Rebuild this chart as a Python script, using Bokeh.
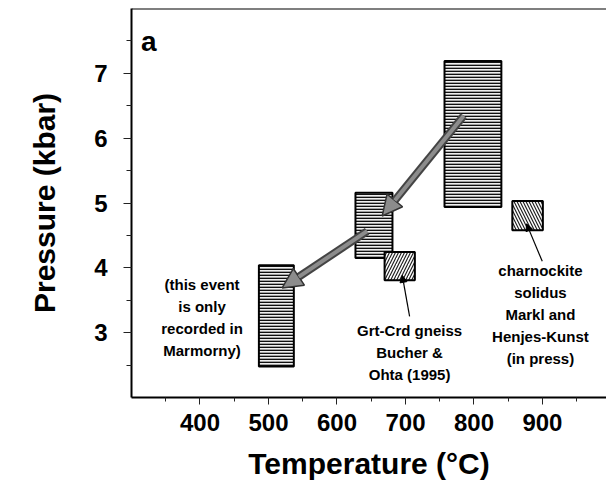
from bokeh.plotting import figure
from bokeh.models import Range1d, FixedTicker, Span, Arrow, NormalHead, ColumnDataSource
from bokeh.core.properties import value
from bokeh.embed import file_html
from bokeh.resources import INLINE

# ---- data ----
T_RANGE = (300, 993.5)
P_RANGE = (2, 8)

x_major = [400, 500, 600, 700, 800, 900]
x_minor = [350, 450, 550, 650, 750, 850, 950]
y_major = [3, 4, 5, 6, 7]
y_minor = [2.5, 3.5, 4.5, 5.5, 6.5, 7.5]

# P-T boxes with horizontal stripes
stripe_T_min = [757, 627, 486]
stripe_T_max = [840, 681, 537]
stripe_P_min = [4.94, 4.15, 2.48]
stripe_P_max = [7.19, 5.16, 4.04]

# Grt-Crd gneiss box (Bucher & Ohta 1995)
grt_T_min = [669.5]
grt_T_max = [713.7]
grt_P_min = [3.81]
grt_P_max = [4.245]

# charnockite solidus box
charn_T_min = [856]
charn_T_max = [900.6]
charn_P_min = [4.58]
charn_P_max = [5.03]

# P-T path arrows
arrow_T_start = [785, 644]
arrow_P_start = [6.345, 4.565]
arrow_T_end = [666, 520]
arrow_P_end = [4.80, 3.69]

# leader lines from notes to boxes
leader_T_start = [706, 899.7]
leader_P_start = [3.25, 4.10]
leader_T_end = [695.3, 876.8]
leader_P_end = [3.884, 4.678]

notes = [
    "(this event\nis only\nrecorded in\nMarmorny)",
    "Grt-Crd gneiss\nBucher &\nOhta (1995)",
    "charnockite\nsolidus\nMarkl and\nHenjes-Kunst\n(in press)",
]
note_T = [403, 706, 897]
note_P = [3.234, 2.697, 3.28]

panel_label = ["a"]
panel_T = [314]
panel_P = [7.49]

FONT = "Liberation Sans"

# ---- figure ----
p = figure(width=606, height=485,
           x_range=Range1d(*T_RANGE), y_range=Range1d(*P_RANGE),
           output_backend="svg", toolbar_location=None,
           min_border_left=131, min_border_right=0,
           min_border_top=8, min_border_bottom=88)
p.outline_line_color = None
p.grid.visible = False
p.background_fill_color = "white"
p.border_fill_color = "white"

xa = p.xaxis[0]
ya = p.yaxis[0]
xa.ticker = FixedTicker(ticks=x_major, minor_ticks=x_minor)
ya.ticker = FixedTicker(ticks=y_major, minor_ticks=y_minor)
xa.axis_label = "Temperature (\u00b0C)"
ya.axis_label = "Pressure (kbar)"
for ax in (xa, ya):
    ax.axis_line_width = 2
    ax.axis_line_color = "black"
    ax.major_tick_line_color = "#222222"
    ax.minor_tick_line_color = "#222222"
    ax.major_tick_in = 0
    ax.minor_tick_in = 0
    ax.major_label_text_font = FONT
    ax.major_label_text_font_style = "bold"
    ax.major_label_text_font_size = "24px"
    ax.major_label_text_color = "black"
    ax.axis_label_text_font = FONT
    ax.axis_label_text_font_style = "bold"
    ax.axis_label_text_font_size = "30px"
    ax.axis_label_text_color = "black"
xa.major_tick_out = 7
xa.minor_tick_out = 4
xa.major_label_standoff = 9
xa.axis_label_standoff = 13
ya.major_tick_out = 8
ya.minor_tick_out = 5
ya.major_label_standoff = 16
ya.axis_label_standoff = 30

# top frame line
p.add_layout(Span(location=P_RANGE[1], dimension="width", line_color="black", line_width=2))

# striped boxes
stripe_src = ColumnDataSource(dict(l=stripe_T_min, r=stripe_T_max, b=stripe_P_min, t=stripe_P_max))
p.quad(left="l", right="r", bottom="b", top="t", source=stripe_src,
       fill_color="#f0f0f0", hatch_pattern="-", hatch_color="#111111",
       hatch_weight=1.7, hatch_scale=3, line_color="black", line_width=2)

# hatched boxes
p.quad(left=grt_T_min, right=grt_T_max, bottom=grt_P_min, top=grt_P_max,
       fill_color="white", hatch_pattern="/", hatch_color="#222222",
       hatch_weight=1.2, hatch_scale=6, line_color="black", line_width=2)
p.quad(left=charn_T_min, right=charn_T_max, bottom=charn_P_min, top=charn_P_max,
       fill_color="white", hatch_pattern="\\", hatch_color="#222222",
       hatch_weight=1.2, hatch_scale=6, line_color="black", line_width=2)

# P-T path arrows: dark rim underneath, grey arrow on top
frac = 0.85
rim_x1 = [s + frac * (e - s) for s, e in zip(arrow_T_start, arrow_T_end)]
rim_y1 = [s + frac * (e - s) for s, e in zip(arrow_P_start, arrow_P_end)]
p.segment(x0=arrow_T_start, y0=arrow_P_start, x1=rim_x1, y1=rim_y1,
          line_color="#444444", line_width=8, line_cap="butt")
arrow_src = ColumnDataSource(dict(xs=arrow_T_start, ys=arrow_P_start, xe=arrow_T_end, ye=arrow_P_end))
p.add_layout(Arrow(end=NormalHead(size=20, fill_color="#8c8c8c", line_color="#333333", line_width=1.5),
                   x_start="xs", y_start="ys", x_end="xe", y_end="ye", source=arrow_src,
                   line_color="#8c8c8c", line_width=4))

# leader lines
leader_src = ColumnDataSource(dict(xs=leader_T_start, ys=leader_P_start, xe=leader_T_end, ye=leader_P_end))
p.add_layout(Arrow(end=NormalHead(size=7, fill_color="black", line_color="black", line_width=1),
                   x_start="xs", y_start="ys", x_end="xe", y_end="ye", source=leader_src,
                   line_color="black", line_width=1.2))

# notes
note_src = ColumnDataSource(dict(x=note_T, y=note_P, text=notes))
p.text(x="x", y="y", text="text", source=note_src,
       text_font=value(FONT), text_font_style="bold", text_font_size="15px",
       text_align="center", text_baseline="middle", text_line_height=1.28,
       text_color="black")

# panel label
p.text(x=panel_T, y=panel_P, text=panel_label,
       text_font=value(FONT), text_font_style="bold", text_font_size="28px",
       text_align="left", text_baseline="alphabetic", text_color="black")

open("out.html", "w").write(file_html(p, INLINE))
